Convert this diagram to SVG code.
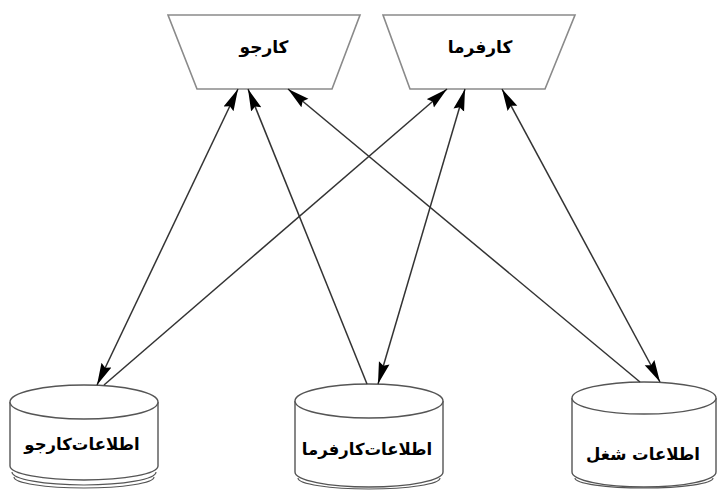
<svg xmlns="http://www.w3.org/2000/svg" width="718" height="492" viewBox="0 0 718 492">
<style>
.trap{fill:#fff;stroke:#8a8a8a;stroke-width:1.6}
.cyl{fill:#fff;stroke:#555;stroke-width:1.4}
.cyl2{fill:none;stroke:#555;stroke-width:1.2}
.lbl{font-family:"DejaVu Sans",sans-serif;font-weight:bold;font-size:16.5px;fill:#000}
.lbl2{font-family:"DejaVu Sans",sans-serif;font-weight:bold;font-size:17px;fill:#000}
.con{stroke:#333;stroke-width:1.5;fill:none}
</style>
<defs>
<marker id="ah" markerUnits="userSpaceOnUse" markerWidth="24" markerHeight="12" refX="22" refY="6" orient="auto-start-reverse">
<path d="M0,0.5 L22,6 L0,11.5 L3,6 z" fill="#000"/>
</marker>
</defs>
<g id="n-karjoo">
<polygon class="trap" points="168,15 360,15 332,89 197,89"/>
<text class="lbl2" x="264" y="53" text-anchor="middle" direction="rtl">کارجو</text>
</g>
<g id="n-karfarma">
<polygon class="trap" points="383,15 575,15 545,89 410,89"/>
<text class="lbl2" x="480" y="53" text-anchor="middle" direction="rtl">کارفرما</text>
</g>
<g id="n-db-karjoo">
<path class="cyl" d="M10,402 L10,466 A74,14 0 0 0 158,466 L158,402"/>
<ellipse class="cyl" cx="84" cy="402" rx="74" ry="17"/>
<path class="cyl2" d="M12,472 A72,13 0 0 0 156,472"/>
<path class="cyl2" d="M14,477 A70,11 0 0 0 154,477"/>
<text class="lbl" x="82" y="450" text-anchor="middle" direction="rtl">اطلاعات‌کارجو</text>
</g>
<g id="n-db-karfarma">
<path class="cyl" d="M295,401 L295,472 A74,15 0 0 0 443,472 L443,401"/>
<ellipse class="cyl" cx="369" cy="401" rx="74" ry="17"/>
<path class="cyl2" d="M298,478 A71,11 0 0 0 440,478"/>
<text class="lbl" x="367" y="455" text-anchor="middle" direction="rtl">اطلاعات‌کارفرما</text>
</g>
<g id="n-db-shoghl">
<path class="cyl" d="M572,398 L572,472 A72,15 0 0 0 716,472 L716,398"/>
<ellipse class="cyl" cx="644" cy="398" rx="72" ry="16"/>
<path class="cyl2" d="M575,478 A69,10 0 0 0 713,478"/>
<text class="lbl" x="643" y="460" text-anchor="middle" direction="rtl">اطلاعات شغل</text>
</g>
<g id="connectors">
<line class="con" x1="97" y1="385" x2="238" y2="89" marker-start="url(#ah)" marker-end="url(#ah)"/>
<line class="con" x1="104" y1="385" x2="447" y2="89" marker-end="url(#ah)"/>
<line class="con" x1="367" y1="384" x2="248" y2="89" marker-end="url(#ah)"/>
<line class="con" x1="378" y1="384" x2="465" y2="89" marker-start="url(#ah)" marker-end="url(#ah)"/>
<line class="con" x1="640" y1="382" x2="288" y2="89" marker-end="url(#ah)"/>
<line class="con" x1="660" y1="382" x2="502" y2="89" marker-start="url(#ah)" marker-end="url(#ah)"/>
</g>
</svg>
